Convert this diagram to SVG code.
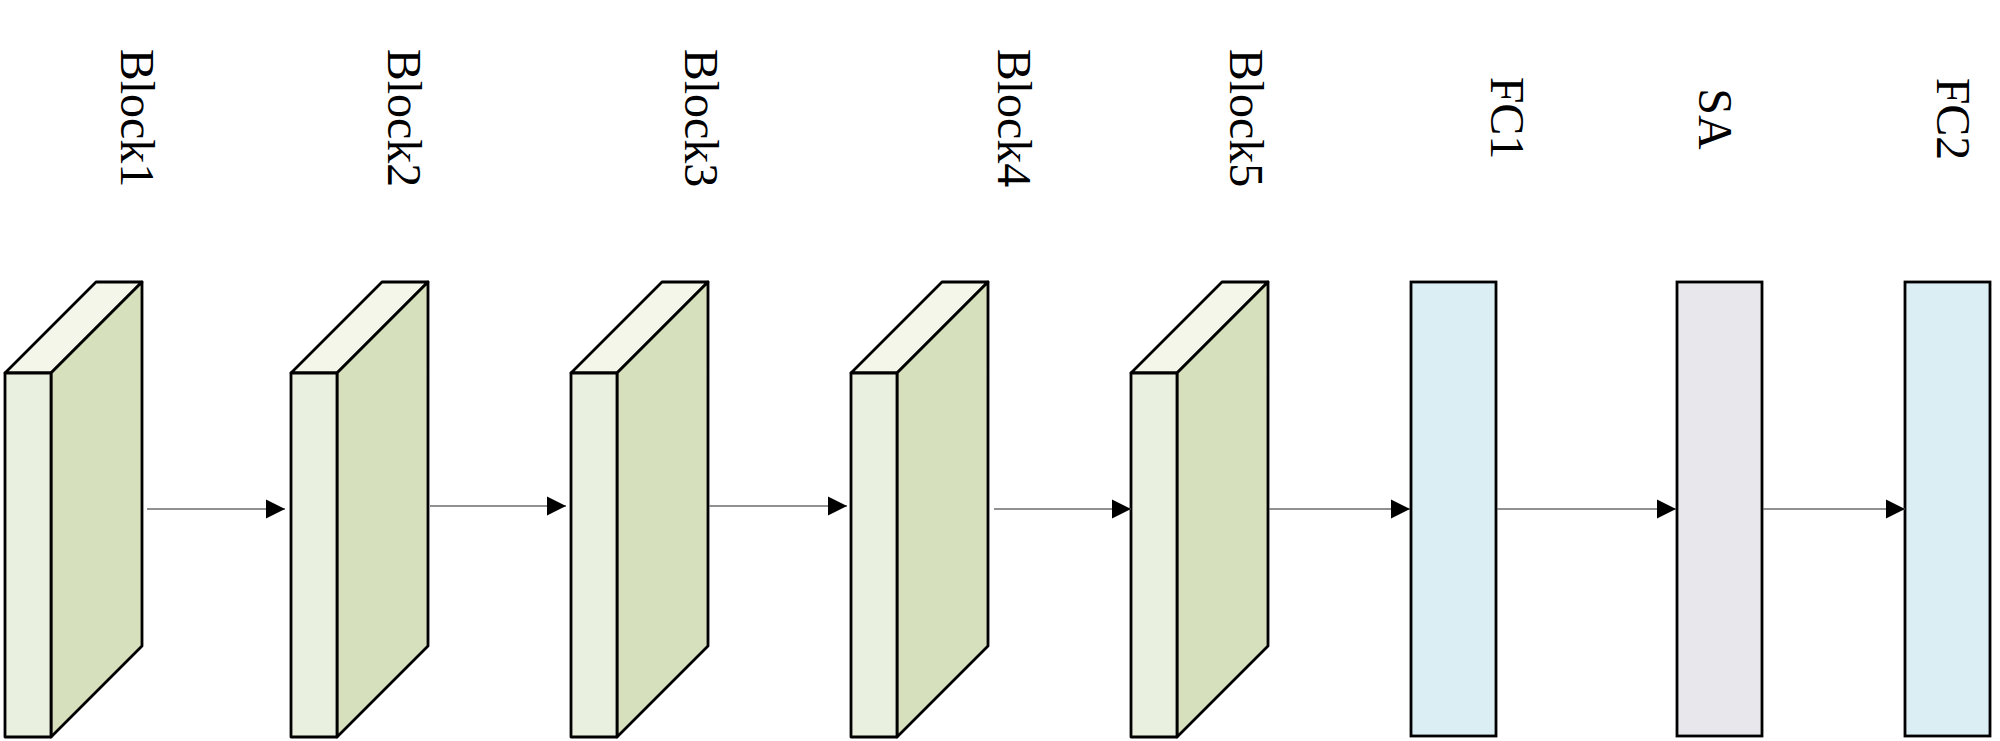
<svg xmlns="http://www.w3.org/2000/svg" width="2000" height="741" viewBox="0 0 2000 741">
<style>
.lbl{font-family:"Liberation Serif","Times New Roman",serif;font-size:48px;fill:#000;text-anchor:middle}
.front{fill:#EAF0DF;stroke:#000;stroke-width:2.8;stroke-linejoin:round}
.side{fill:#D6E0BC;stroke:#000;stroke-width:2.8;stroke-linejoin:round}
.top{fill:#F3F6E9;stroke:#000;stroke-width:2.8;stroke-linejoin:round}
.fc{fill:#DAEEF3;stroke:#000;stroke-width:2.8}
.sa{fill:#E8E8EC;stroke:#000;stroke-width:2.8}
.conn{stroke:#6b6b6b;stroke-width:1.6;fill:none;marker-end:url(#arr)}
</style>
<defs>
<marker id="arr" markerUnits="userSpaceOnUse" markerWidth="20" markerHeight="20" refX="19" refY="10" orient="auto">
<path d="M0,0.5 L19,10 L0,19.5 Z" fill="#000"/>
</marker>
<g id="slab">
<polygon class="top" points="0,91 91,0 137,0 46,91"/>
<polygon class="side" points="46,91 137,0 137,364 46,455"/>
<rect class="front" x="0" y="91" width="46" height="364"/>
</g>
</defs>
<rect width="2000" height="741" fill="#fff"/>
<g id="block1"><use href="#slab" x="5" y="282"/><text class="lbl" transform="translate(121,118) rotate(90)">Block1</text></g>
<g id="block2"><use href="#slab" x="291" y="282"/><text class="lbl" transform="translate(388,118) rotate(90)">Block2</text></g>
<g id="block3"><use href="#slab" x="571" y="282"/><text class="lbl" transform="translate(685,118) rotate(90)">Block3</text></g>
<g id="block4"><use href="#slab" x="851" y="282"/><text class="lbl" transform="translate(998,118) rotate(90)">Block4</text></g>
<g id="block5"><use href="#slab" x="1131" y="282"/><text class="lbl" transform="translate(1230,118) rotate(90)">Block5</text></g>
<g id="fc1"><rect class="fc" x="1411" y="282" width="85" height="454"/><text class="lbl" transform="translate(1491,118) rotate(90)">FC1</text></g>
<g id="sa"><rect class="sa" x="1677" y="282" width="85" height="454"/><text class="lbl" transform="translate(1699,119) rotate(90)">SA</text></g>
<g id="fc2"><rect class="fc" x="1905" y="282" width="85" height="454"/><text class="lbl" transform="translate(1937,119) rotate(90)">FC2</text></g>
<g id="connectors">
<line class="conn" x1="147" y1="509" x2="285" y2="509"/>
<line class="conn" x1="430" y1="506" x2="566" y2="506"/>
<line class="conn" x1="709" y1="506" x2="847" y2="506"/>
<line class="conn" x1="994" y1="509" x2="1131" y2="509"/>
<line class="conn" x1="1269" y1="509" x2="1410" y2="509"/>
<line class="conn" x1="1497" y1="509" x2="1676" y2="509"/>
<line class="conn" x1="1763" y1="509" x2="1905" y2="509"/>
</g>
</svg>
